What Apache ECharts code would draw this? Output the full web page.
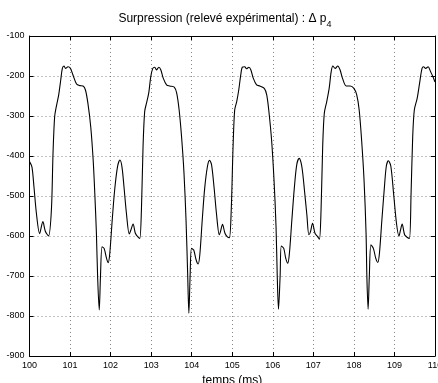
<!DOCTYPE html>
<html>
<head>
<meta charset="utf-8">
<script src="https://cdn.jsdelivr.net/npm/echarts@6/dist/echarts.min.js"></script>
<style>
  html, body { margin: 0; padding: 0; background: #fff; overflow: hidden; }
  #chart { width: 438px; height: 383px; }
</style>
</head>
<body>
<div id="chart"></div>
<script>
// Relevé de surpression Δp4 en fonction du temps (ms)
const tempsMs = [
  100.00, 100.06, 100.11, 100.17, 100.25, 100.33, 100.39, 100.47, 100.54, 100.58,
  100.62, 100.66, 100.72, 100.77, 100.81, 100.85, 100.89, 100.95, 101.01, 101.07,
  101.16, 101.24, 101.32, 101.38, 101.44, 101.51, 101.57, 101.61, 101.65, 101.68,
  101.72, 101.75, 101.79, 101.84, 101.90, 101.94, 101.98, 102.04, 102.10, 102.17,
  102.23, 102.28, 102.33, 102.39, 102.46, 102.50, 102.555, 102.61, 102.68, 102.72,
  102.76, 102.80, 102.84, 102.885, 102.94, 102.99, 103.04, 103.09, 103.13, 103.19,
  103.24, 103.30, 103.38, 103.46, 103.57, 103.63, 103.69, 103.75, 103.81, 103.86,
  103.90, 103.93, 103.96, 103.995, 104.05, 104.11, 104.16, 104.20, 104.26, 104.32,
  104.39, 104.44, 104.49, 104.55, 104.61, 104.68, 104.71, 104.76, 104.82, 104.88,
  104.93, 104.975, 105.02, 105.06, 105.11, 105.16, 105.21, 105.25, 105.31, 105.35,
  105.41, 105.46, 105.52, 105.60, 105.68, 105.79, 105.85, 105.90, 105.97, 106.03,
  106.08, 106.11, 106.14, 106.18, 106.21, 106.27, 106.32, 106.37, 106.41, 106.47,
  106.53, 106.59, 106.65, 106.70, 106.74, 106.78, 106.84, 106.89, 106.93, 106.98,
  107.04, 107.11, 107.15, 107.19, 107.23, 107.27, 107.33, 107.39, 107.44, 107.48,
  107.54, 107.60, 107.66, 107.72, 107.81, 107.91, 108.00, 108.07, 108.13, 108.19,
  108.25, 108.30, 108.32, 108.35, 108.38, 108.42, 108.48, 108.54, 108.59, 108.63,
  108.69, 108.75, 108.80, 108.85, 108.91, 108.98, 109.05, 109.11, 109.15, 109.19,
  109.25, 109.31, 109.37, 109.41, 109.45, 109.49, 109.56, 109.62, 109.68, 109.72,
  109.77, 109.83, 109.89, 109.955, 110.00
];

const deltaP4 = [
  -414, -427, -477, -543, -594, -564, -588, -600, -535, -393,
  -302, -277, -247, -210, -181, -175, -181, -177, -181, -197,
  -220, -224, -225, -235, -268, -327, -410, -493, -593, -702,
  -785, -702, -627, -631, -656, -667, -643, -560, -485, -427,
  -410, -427, -477, -543, -595, -585, -570, -593, -603, -606,
  -535, -377, -289, -268, -243, -202, -181, -178, -185, -178,
  -185, -206, -222, -225, -228, -243, -285, -352, -443, -560,
  -693, -793, -702, -631, -635, -660, -670, -647, -560, -481,
  -425, -411, -422, -477, -543, -597, -589, -571, -593, -602,
  -604, -535, -377, -285, -264, -235, -197, -178, -177, -182,
  -178, -185, -206, -222, -225, -231, -247, -285, -360, -460,
  -577, -702, -783, -702, -625, -631, -656, -668, -643, -560,
  -481, -422, -406, -418, -445, -485, -547, -597, -589, -568,
  -593, -602, -608, -535, -377, -293, -264, -231, -189, -175,
  -181, -175, -185, -206, -225, -225, -231, -247, -285, -360,
  -460, -593, -702, -783, -702, -622, -631, -656, -666, -643,
  -560, -481, -425, -412, -425, -495, -568, -600, -585, -570,
  -597, -603, -606, -493, -352, -285, -256, -218, -181, -177,
  -181, -177, -189, -203, -215
];

const axeTemps = { min: 100, max: 110, pas: 1 };
const axePression = { min: -900, max: -100, pas: 100 };

const points = tempsMs.map((t, i) => [t, deltaP4[i]]);

const police = '"Liberation Sans", Arial, Helvetica, sans-serif';

const cadre = {
  axisLine: { show: true, onZero: false, lineStyle: { color: '#000', width: 1 } },
  axisTick: { show: true, inside: true, length: 4, lineStyle: { color: '#000', width: 1 } }
};

const grille = { show: true, lineStyle: { color: '#555', width: 0.7, type: [1, 3] } };

const chart = echarts.init(document.getElementById('chart'), null, { renderer: 'canvas' });

chart.setOption({
  animation: false,
  backgroundColor: '#fff',
  title: {
    text: '{t|Surpression (relevé expérimental) : Δ p}{sub|4}',
    left: 220,
    top: 4,
    textAlign: 'center',
    textStyle: {
      fontFamily: police,
      fontWeight: 'normal',
      rich: {
        t: { fontFamily: police, fontSize: 12, color: '#000', lineHeight: 20, verticalAlign: 'middle' },
        sub: { fontFamily: police, fontSize: 9, color: '#000', lineHeight: 20, verticalAlign: 'bottom' }
      }
    }
  },
  grid: { left: 29.5, right: 3, top: 36, bottom: 27, containLabel: false, outerBoundsMode: 'none' },
  xAxis: [
    Object.assign({
      type: 'value', position: 'bottom',
      min: axeTemps.min, max: axeTemps.max, interval: axeTemps.pas,
      name: 'temps (ms)', nameLocation: 'middle', nameGap: 14,
      nameTextStyle: { fontFamily: police, fontSize: 12, color: '#000' },
      axisLabel: { fontFamily: police, fontSize: 9, color: '#000', margin: 5, hideOverlap: false },
      splitLine: grille
    }, cadre),
    Object.assign({
      type: 'value', position: 'top',
      min: axeTemps.min, max: axeTemps.max, interval: axeTemps.pas,
      axisLabel: { show: false }, splitLine: { show: false }
    }, cadre)
  ],
  yAxis: [
    Object.assign({
      type: 'value', position: 'left',
      min: axePression.min, max: axePression.max, interval: axePression.pas,
      axisLabel: { fontFamily: police, fontSize: 9, color: '#000', margin: 5 },
      splitLine: grille
    }, cadre),
    Object.assign({
      type: 'value', position: 'right',
      min: axePression.min, max: axePression.max, interval: axePression.pas,
      axisLabel: { show: false }, splitLine: { show: false }
    }, cadre)
  ],
  series: [{
    type: 'line',
    data: points,
    xAxisIndex: 0,
    yAxisIndex: 0,
    showSymbol: false,
    smooth: 0.3,
    clip: true,
    lineStyle: { color: '#000', width: 1.1 }
  }]
});
</script>
</body>
</html>
